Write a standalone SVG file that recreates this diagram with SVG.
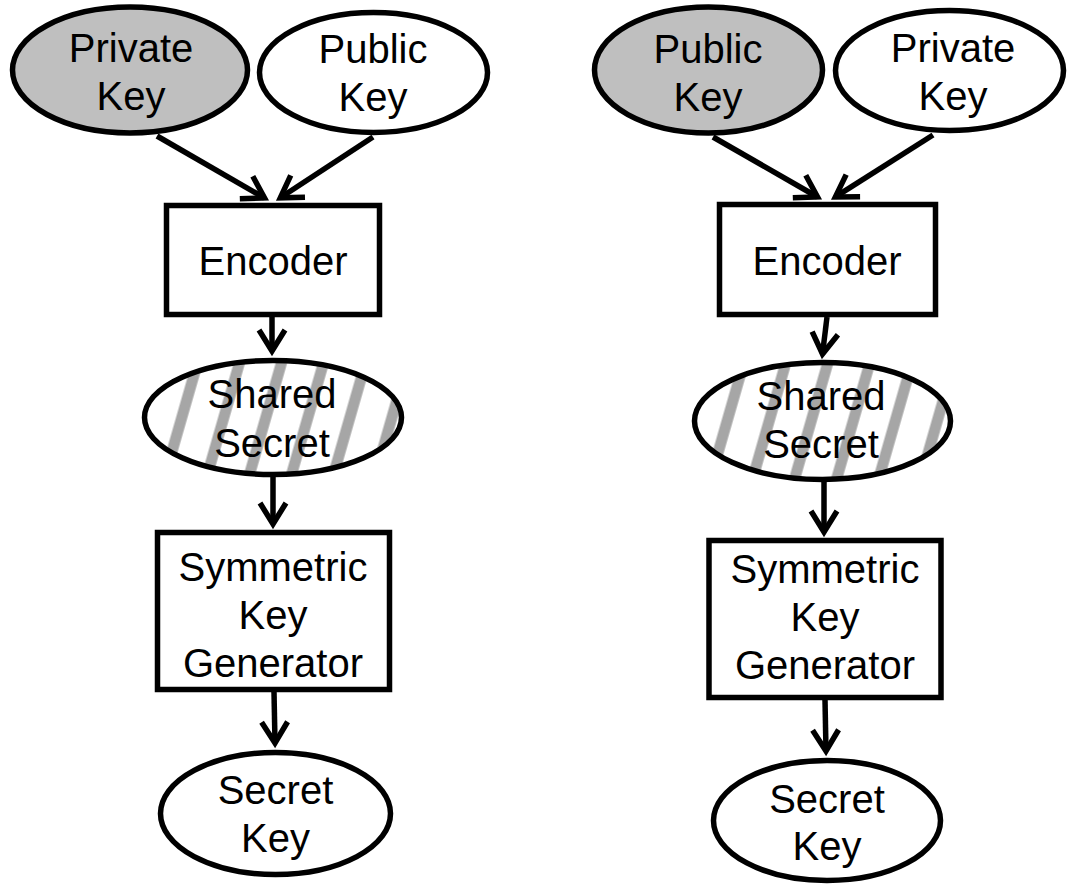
<svg xmlns="http://www.w3.org/2000/svg" width="1068" height="886" viewBox="0 0 1068 886">
  <style>
    .node { stroke: #000; stroke-width: 5.5; }
    .plain { fill: #fff; }
    .shaded { fill: #bfbfbf; }
    .striped { fill: url(#stripes); }
    .label { font-family: "Liberation Sans", Arial, sans-serif; font-size: 40px; fill: #000; text-anchor: middle; }
    .edge { fill: none; stroke: #000; stroke-width: 5.5; marker-end: url(#chevron); }
  </style>
  <defs>
    <!-- diagonal hatch used for the shared-secret nodes -->
    <pattern id="stripes" patternUnits="userSpaceOnUse" width="40.4" height="40" patternTransform="rotate(16)">
      <rect x="0" y="0" width="40.4" height="40" fill="#fff"/>
      <rect x="1.5" y="0" width="11" height="40" fill="#a6a6a6"/>
    </pattern>
    <!-- open V arrowhead -->
    <marker id="chevron" markerUnits="userSpaceOnUse" orient="auto" refX="0" refY="0" markerWidth="40" markerHeight="40" overflow="visible">
      <path d="M -21 -13 L 0 0 L -21 13" fill="none" stroke="#000" stroke-width="5.5" stroke-linejoin="miter"/>
    </marker>
  </defs>

  <rect x="0" y="0" width="1068" height="886" fill="#fff"/>

  <!-- connectors -->
  <g id="connectors">
    <line class="edge" x1="157" y1="136" x2="264.5" y2="198"/>
    <line class="edge" x1="373" y1="137" x2="280.3" y2="197.8"/>
    <line class="edge" x1="272" y1="317" x2="272" y2="351"/>
    <line class="edge" x1="273" y1="477" x2="273" y2="524"/>
    <line class="edge" x1="274" y1="692" x2="275" y2="743"/>

    <line class="edge" x1="713" y1="137" x2="817.5" y2="197"/>
    <line class="edge" x1="933" y1="135" x2="835.4" y2="196.9"/>
    <line class="edge" x1="827" y1="317" x2="822.5" y2="354"/>
    <line class="edge" x1="824" y1="481" x2="824" y2="532"/>
    <line class="edge" x1="825" y1="700" x2="826" y2="751"/>
  </g>

  <!-- left flow -->
  <g id="left-private-key">
    <ellipse class="node shaded" cx="130" cy="70" rx="117.5" ry="63"/>
    <text class="label" x="131" y="62">Private</text>
    <text class="label" x="131" y="110">Key</text>
  </g>
  <g id="left-public-key">
    <ellipse class="node plain" cx="373.5" cy="72.5" rx="114" ry="60"/>
    <text class="label" x="373" y="63">Public</text>
    <text class="label" x="373" y="111">Key</text>
  </g>
  <g id="left-encoder">
    <rect class="node plain" x="166.5" y="205.5" width="213" height="109"/>
    <text class="label" x="273" y="275">Encoder</text>
  </g>
  <g id="left-shared-secret">
    <ellipse class="node striped" cx="273" cy="417.5" rx="128.5" ry="57"/>
    <text class="label" x="272" y="408">Shared</text>
    <text class="label" x="272" y="457">Secret</text>
  </g>
  <g id="left-symmetric-key-generator">
    <rect class="node plain" x="157.5" y="532.5" width="232" height="157"/>
    <text class="label" x="273" y="581">Symmetric</text>
    <text class="label" x="273" y="629">Key</text>
    <text class="label" x="273" y="677">Generator</text>
  </g>
  <g id="left-secret-key">
    <ellipse class="node plain" cx="275.5" cy="813.5" rx="115" ry="61"/>
    <text class="label" x="275.5" y="804">Secret</text>
    <text class="label" x="275.5" y="852">Key</text>
  </g>

  <!-- right flow -->
  <g id="right-public-key">
    <ellipse class="node shaded" cx="708.5" cy="70" rx="114" ry="63"/>
    <text class="label" x="708" y="63">Public</text>
    <text class="label" x="708" y="111">Key</text>
  </g>
  <g id="right-private-key">
    <ellipse class="node plain" cx="949.5" cy="70.5" rx="114" ry="60"/>
    <text class="label" x="953" y="62">Private</text>
    <text class="label" x="953" y="110">Key</text>
  </g>
  <g id="right-encoder">
    <rect class="node plain" x="719.5" y="204.5" width="216" height="110"/>
    <text class="label" x="827" y="275">Encoder</text>
  </g>
  <g id="right-shared-secret">
    <ellipse class="node striped" cx="822.5" cy="421" rx="128" ry="58.5"/>
    <text class="label" x="821" y="410">Shared</text>
    <text class="label" x="821" y="458">Secret</text>
  </g>
  <g id="right-symmetric-key-generator">
    <rect class="node plain" x="709" y="540.5" width="232" height="157"/>
    <text class="label" x="825" y="583">Symmetric</text>
    <text class="label" x="825" y="631">Key</text>
    <text class="label" x="825" y="679">Generator</text>
  </g>
  <g id="right-secret-key">
    <ellipse class="node plain" cx="827" cy="820.5" rx="113.5" ry="60"/>
    <text class="label" x="827" y="813">Secret</text>
    <text class="label" x="827" y="860">Key</text>
  </g>
</svg>
